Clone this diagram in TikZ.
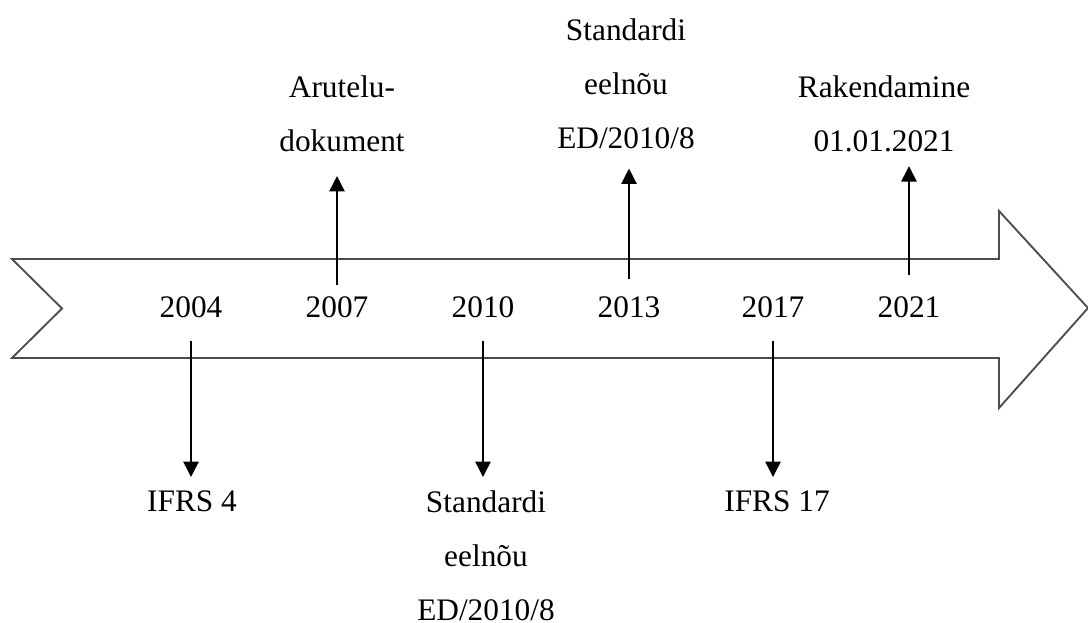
\documentclass[tikz,border=0pt]{standalone}
\usepackage{fontspec}
\setmainfont{Liberation Serif}
\usetikzlibrary{arrows.meta}

\tikzset{
	band/.style={draw=black!70, line width=1.4pt, line join=miter},
	year/.style={inner sep=0pt, font=\fontsize{23.5}{40.5}\selectfont},
	event/.style={inner sep=0pt, align=center, anchor=north, font=\fontsize{23.5}{40.5}\selectfont},
	tick/.style={-{Triangle[width=11.5pt,length=11.5pt]}, line width=1.1pt},
}

\begin{document}
\begin{tikzpicture}[x=0.75pt, y=-0.75pt]
	\useasboundingbox (0,0) rectangle (1088,623);
	
	% the timeline band
	\draw[band] (12,259) -- (999,259) -- (999,211) -- (1088,308) -- (999,408)
		-- (999,358) -- (12,358) -- (62,308.5) -- cycle;
	
	\node[year] (y2004) at (191,307) {2004};
	\node[year] (y2007) at (337,307) {2007};
	\node[year] (y2010) at (483,307) {2010};
	\node[year] (y2013) at (629,307) {2013};
	\node[year] (y2017) at (773,307) {2017};
	\node[year] (y2021) at (909,307) {2021};
	
	\node[event] (e2007) at (342,75.5) {Arutelu-\\dokument};
	\node[event] (e2013) at (626,18) {Standardi\\eelnõu\\ED/2010/8};
	\node[event] (e2021) at (884,75.5) {Rakendamine\\01.01.2021};
	
	\node[event] (e2004) at (192,490) {IFRS 4};
	\node[event] (e2010) at (486,490) {Standardi\\eelnõu\\ED/2010/8};
	\node[event] (e2017) at (777,490) {IFRS 17};
	
	% up
	\draw[tick, shorten >=18pt] ([yshift=8.7pt]y2007.north) -- (e2007.south -| y2007.north);
	\draw[tick, shorten >=15pt] ([yshift=12.5pt]y2013.north) -- (e2013.south -| y2013.north);
	\draw[tick, shorten >=10.5pt] ([yshift=16pt]y2021.north) -- (e2021.south -| y2021.north);
	
	% down
	\draw[tick, shorten >=9.75pt] ([yshift=-17pt]y2004.south) -- (e2004.north -| y2004.south);
	\draw[tick, shorten >=9.75pt] ([yshift=-17pt]y2010.south) -- (e2010.north -| y2010.south);
	\draw[tick, shorten >=9.75pt] ([yshift=-17pt]y2017.south) -- (e2017.north -| y2017.south);
\end{tikzpicture}
\end{document}
